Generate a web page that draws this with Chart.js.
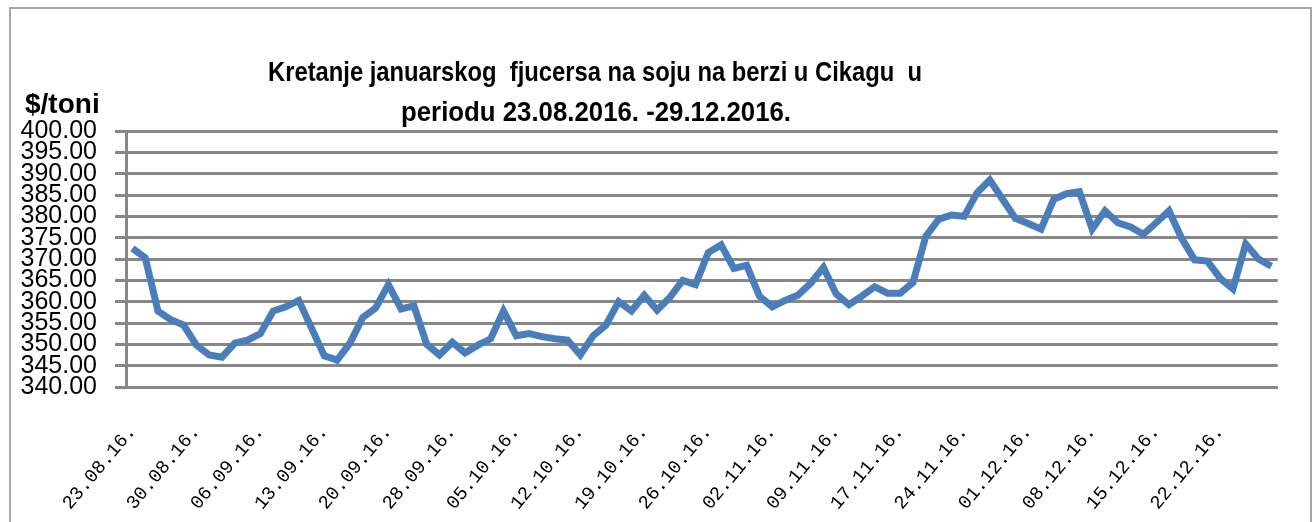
<!DOCTYPE html>
<html>
<head>
<meta charset="utf-8">
<title>Kretanje januarskog fjucersa na soju</title>
<script src="https://cdn.jsdelivr.net/npm/chart.js@4.4.1/dist/chart.umd.min.js"></script>
<style>
  body { margin: 0; background: #fff; }
  #wrap { position: relative; width: 1315px; height: 522px; }
</style>
</head>
<body>
<div id="wrap"><canvas id="chart"></canvas></div>
<script>
// trading days (labels every 5th day are shown)
const dates = [
  "23.08.16.", "24.08.16.", "25.08.16.", "26.08.16.", "29.08.16.",
  "30.08.16.", "31.08.16.", "01.09.16.", "02.09.16.", "05.09.16.",
  "06.09.16.", "07.09.16.", "08.09.16.", "09.09.16.", "12.09.16.",
  "13.09.16.", "14.09.16.", "15.09.16.", "16.09.16.", "19.09.16.",
  "20.09.16.", "21.09.16.", "22.09.16.", "23.09.16.", "27.09.16.",
  "28.09.16.", "29.09.16.", "30.09.16.", "03.10.16.", "04.10.16.",
  "05.10.16.", "06.10.16.", "07.10.16.", "10.10.16.", "11.10.16.",
  "12.10.16.", "13.10.16.", "14.10.16.", "17.10.16.", "18.10.16.",
  "19.10.16.", "20.10.16.", "21.10.16.", "24.10.16.", "25.10.16.",
  "26.10.16.", "27.10.16.", "28.10.16.", "31.10.16.", "01.11.16.",
  "02.11.16.", "03.11.16.", "04.11.16.", "07.11.16.", "08.11.16.",
  "09.11.16.", "10.11.16.", "14.11.16.", "15.11.16.", "16.11.16.",
  "17.11.16.", "18.11.16.", "21.11.16.", "22.11.16.", "23.11.16.",
  "24.11.16.", "25.11.16.", "28.11.16.", "29.11.16.", "30.11.16.",
  "01.12.16.", "02.12.16.", "05.12.16.", "06.12.16.", "07.12.16.",
  "08.12.16.", "09.12.16.", "12.12.16.", "13.12.16.", "14.12.16.",
  "15.12.16.", "16.12.16.", "19.12.16.", "20.12.16.", "21.12.16.",
  "22.12.16.", "23.12.16.", "27.12.16.", "28.12.16.", "29.12.16."
];

// $/toni
const prices = [
  372.5, 370.3, 357.8, 355.8, 354.5, 349.8, 347.5, 347.0, 350.3, 351.0,
  352.5, 357.8, 358.8, 360.3, 353.8, 347.3, 346.3, 350.3, 356.3, 358.5,
  364.0, 358.3, 359.0, 350.0, 347.5, 350.5, 348.0, 349.8, 351.3, 357.8,
  352.0, 352.5, 351.8, 351.3, 351.0, 347.5, 352.0, 354.5, 360.0, 357.8,
  361.5, 358.0, 361.0, 365.0, 364.0, 371.5, 373.3, 367.8, 368.5, 361.3,
  358.8, 360.3, 361.5, 364.3, 368.0, 361.8, 359.3, 361.3, 363.5, 362.0,
  362.0, 364.5, 375.3, 379.3, 380.3, 380.0, 385.5, 388.5, 384.0, 379.5,
  378.3, 377.0, 384.0, 385.3, 385.8, 377.0, 381.3, 378.5, 377.5, 375.8,
  378.5, 381.3, 374.8, 369.8, 369.5, 365.5, 363.0, 373.5, 370.0, 368.3
];

const yTicks = [340, 345, 350, 355, 360, 365, 370, 375, 380, 385, 390, 395, 400];

const titleLines = [
  "Kretanje januarskog  fjucersa na soju na berzi u Cikagu  u",
  "periodu 23.08.2016. -29.12.2016."
];
const unitLabel = "$/toni";

// frame, title and unit label
const decorPlugin = {
  id: "decor",
  beforeDraw(chart) {
    const ctx = chart.ctx;
    ctx.save();
    ctx.strokeStyle = "#a6a6a6";
    ctx.lineWidth = 2;
    ctx.strokeRect(10, 8, 1301, 530);
    ctx.restore();
  },
  afterDraw(chart) {
    const ctx = chart.ctx;
    ctx.save();
    ctx.fillStyle = "#000";
    ctx.font = "bold 28px 'Liberation Sans', Arial, sans-serif";
    ctx.textBaseline = "alphabetic";
    ctx.textAlign = "center";
    ctx.fillText(titleLines[0], 595, 81, 654);
    ctx.fillText(titleLines[1], 596, 121, 390);
    ctx.textAlign = "left";
    ctx.fillText(unitLabel, 25, 113, 75);
    ctx.restore();
  }
};

const gridGray = "#878787";

const ctx = document.getElementById("chart").getContext("2d");
const chart = new Chart(ctx, {
  type: "line",
  data: {
    labels: dates,
    datasets: [
      {
        data: prices,
        borderColor: "#4a7ebb",
        borderWidth: 7,
        pointRadius: 0,
        tension: 0,
        fill: false,
      },
    ],
  },
  options: {
    responsive: true,
    maintainAspectRatio: false,
    animation: false,
    layout: {
      padding: { top: 131, right: 36, bottom: 0, left: 0 },
    },
    plugins: {
      legend: { display: false },
      tooltip: { enabled: false },
      title: { display: false },
    },
    scales: {
      x: {
        offset: true,
        grid: { display: false },
        border: { display: true, color: gridGray, width: 3 },
        ticks: {
          autoSkip: false,
          minRotation: 50,
          maxRotation: 50,
          padding: 26,
          color: "#000",
          font: { family: "'Liberation Mono', 'DejaVu Sans Mono', monospace", size: 19 },
          callback: (val, i) => (i % 5 === 0 ? dates[i] : ""),
        },
        afterFit: (scale) => {
          scale.height = 135;
        },
      },
      y: {
        min: 340,
        max: 400,
        grid: { color: gridGray, lineWidth: 3, tickLength: 11 },
        border: { display: true, color: gridGray, width: 3 },
        ticks: {
          autoSkip: false,
          padding: 18,
          color: "#000",
          font: { family: "'Liberation Sans', Arial, sans-serif", size: 25 },
          callback: (v) => Number(v).toFixed(2),
        },
        afterBuildTicks: (scale) => {
          scale.ticks = yTicks.map((v) => ({ value: v }));
        },
        afterFit: (scale) => {
          scale.width = 126;
        },
      },
    },
  },
  plugins: [decorPlugin],
});
</script>
</body>
</html>
